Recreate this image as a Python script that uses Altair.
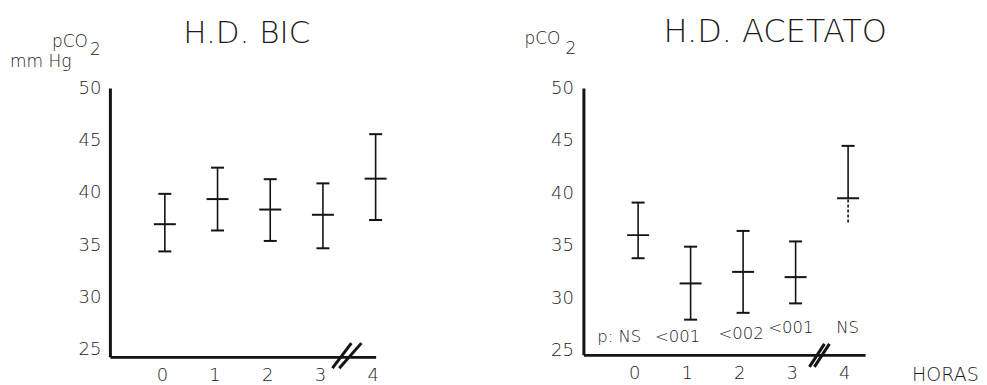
import altair as alt
import pandas as pd

# ---------------- data ----------------
hours = [0, 1, 2, 3, 4]

bic_mean = [37.0, 39.4, 38.4, 37.9, 41.35]
bic_upper = [39.9, 42.4, 41.3, 40.9, 45.6]
bic_lower = [34.4, 36.4, 35.4, 34.7, 37.4]

ace_mean = [36.0, 31.4, 32.5, 32.0, 39.5]
ace_upper = [39.1, 34.9, 36.4, 35.4, 44.5]
ace_lower = [33.8, 27.95, 28.6, 29.5, 37.2]

p_labels = ["p: NS", "<001", "<002", "<001", "NS"]
p_label_x = [-0.36, 0.75, 1.96, 2.91, 3.99]
p_label_y = [25.8, 25.8, 26.1, 26.7, 26.7]

y_ticks = [25, 30, 35, 40, 45, 50]
x_ticks = [0, 1, 2, 3, 4]

INK = "#141414"
FONT = "DejaVu Sans"


def panel(mean, upper, lower, xdom, ydom, w, h, brk, lower_cap_hours,
          dashed_hour, x_label_offset, y_label_pad, annotations, plabels=None):
    df = pd.DataFrame({"hour": hours, "mean": mean, "upper": upper, "lower": lower})
    xs = alt.Scale(domain=xdom, nice=False, zero=False)
    ys = alt.Scale(domain=ydom, nice=False, zero=False)
    xax = alt.Axis(values=x_ticks, title=None, ticks=False, grid=False, format="d",
                   domainColor=INK, domainWidth=2.6, labelFontSize=18,
                   labelFont=FONT, labelColor="#222", labelOffset=x_label_offset,
                   labelPadding=10, labelFlush=False, labelOverlap=False,
                   labelFontWeight=300)
    yax = alt.Axis(values=y_ticks, title=None, ticks=False, grid=False, format="d",
                   domainColor=INK, domainWidth=3, labelFontSize=18,
                   labelFont=FONT, labelColor="#222", labelPadding=y_label_pad,
                   labelFlush=False, labelOverlap=False, labelFontWeight=300)

    def X(f):
        return alt.X(f, scale=xs, axis=xax)

    def Y(f):
        return alt.Y(f, scale=ys, axis=yax)

    base = alt.Chart(df)
    up = base.mark_rule(color=INK, strokeWidth=1.6).encode(
        x=X("hour:Q"), y=Y("mean:Q"), y2="upper:Q")
    lo = base.mark_rule(color=INK, strokeWidth=1.6).encode(
        x=X("hour:Q"), y=Y("lower:Q"), y2="mean:Q",
        strokeDash=alt.condition(alt.datum.hour == dashed_hour,
                                 alt.value([3, 2]), alt.value([1, 0])))
    cap_up = base.mark_tick(orient="horizontal", size=13, thickness=2,
                            color=INK, opacity=1).encode(x=X("hour:Q"), y=Y("upper:Q"))
    cap_lo = base.transform_filter(
        alt.FieldOneOfPredicate(field="hour", oneOf=lower_cap_hours)
    ).mark_tick(orient="horizontal", size=13, thickness=2, color=INK,
                opacity=1).encode(x=X("hour:Q"), y=Y("lower:Q"))
    mid = base.mark_tick(orient="horizontal", size=22, thickness=2, color=INK,
                         opacity=1).encode(x=X("hour:Q"), y=Y("mean:Q"))

    bdf = pd.DataFrame({"x1": [brk[0], brk[1]], "x2": [brk[2], brk[3]],
                        "y1": [brk[4], brk[4]], "y2": [brk[5], brk[5]]})
    breaks = alt.Chart(bdf).mark_rule(color=INK, strokeWidth=3).encode(
        x=X("x1:Q"), x2="x2:Q", y=Y("y1:Q"), y2="y2:Q")

    layers = [up, lo, cap_up, cap_lo, mid, breaks]
    if plabels is not None:
        pdf = pd.DataFrame({"px": plabels[0], "py": plabels[1], "lab": plabels[2]})
        layers.append(alt.Chart(pdf).mark_text(
            font=FONT, fontSize=16.5, align="center", baseline="alphabetic",
            color="#1a1a1a", fontWeight=300
        ).encode(x=X("px:Q"), y=Y("py:Q"), text="lab:N"))
    for (txt, px, py, size, align) in annotations:
        layers.append(
            alt.Chart(pd.DataFrame({"t": [txt]})).mark_text(
                font=FONT, fontSize=size, align=align, baseline="alphabetic",
                color="#1a1a1a", fontWeight=300
            ).encode(x=alt.value(px), y=alt.value(py), text="t:N"))
    return alt.layer(*layers).properties(width=w, height=h)


left = panel(
    bic_mean, bic_upper, bic_lower,
    xdom=[-1.043, 4.0], ydom=[24.33, 50], w=266, h=269,
    brk=[3.18, 3.31, 3.54, 3.73, 23.25, 25.64],
    lower_cap_hours=[0, 1, 2, 3, 4], dashed_hour=99,
    x_label_offset=-3, y_label_pad=9,
    annotations=[
        ("H.D. BIC", 137, -45, 31, "center"),
        ("pCO", -58, -41, 17, "left"),
        ("2", -20, -33, 17, "left"),
        ("mm Hg", -100, -21, 17, "left"),
    ])

right = panel(
    ace_mean, ace_upper, ace_lower,
    xdom=[-1.042, 4.324], ydom=[24.6, 50], w=282, h=267,
    brk=[3.263, 3.358, 3.549, 3.644, 23.45, 25.64],
    lower_cap_hours=[0, 1, 2, 3], dashed_hour=4,
    x_label_offset=-4, y_label_pad=10,
    annotations=[
        ("H.D. ACETATO", 192, -46, 32, "center"),
        ("pCO", -59, -44, 17, "left"),
        ("2", -18, -34, 17, "left"),
        ("HORAS", 329, 293, 19, "left"),
    ],
    plabels=(p_label_x, p_label_y, p_labels))

chart = alt.hconcat(left, right, spacing=208, bounds="flush").properties(
    padding={"left": 2, "top": 8, "right": 0, "bottom": 0},
    background="white",
).configure_view(strokeWidth=0, stroke="transparent")

chart.save("out.html", embed_options={"renderer": "svg", "actions": False})
